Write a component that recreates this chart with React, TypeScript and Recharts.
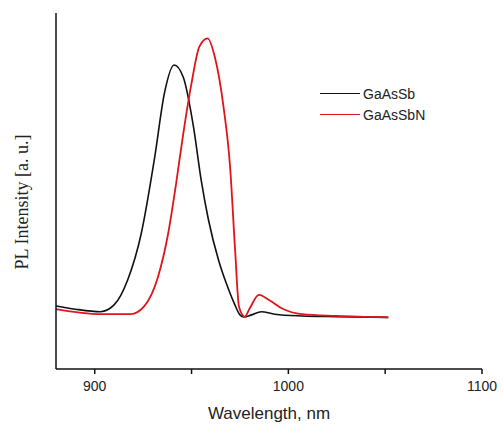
import { Label, Line, LineChart, XAxis, YAxis } from "recharts";

// wavelength (nm) / PL intensity (a.u.)
const gaAsSbWl = [880, 890, 903, 910, 917, 924, 931, 936, 941, 945.7, 951, 955, 958.7, 964, 968, 972, 975, 977, 981, 986, 993, 1007, 1024.5, 1051.6];
const gaAsSbPl = [17.7, 16.8, 16.1, 18, 25, 38, 59.6, 77.5, 85.4, 82, 68, 53, 42, 30.5, 24, 18.5, 15.2, 14.6, 15.2, 16.1, 15.4, 14.9, 14.7, 14.5];

const gaAsSbNWl = [880, 903, 918.6, 925.4, 932.7, 937.9, 942, 945.7, 949.9, 954, 958.3, 962, 966.5, 969.9, 972.5, 974.5, 977.5, 980, 984.8, 990, 996.8, 1007, 1024.5, 1051.6];
const gaAsSbNPl = [16.8, 15.4, 15.4, 17.5, 25.9, 38, 52, 66, 80, 90.5, 92.9, 87.7, 73.7, 56.8, 33.4, 17.5, 14.7, 17, 20.8, 19.4, 17, 15.4, 14.9, 14.5];

const xTicks = [900, 950, 1000, 1050, 1100];
const xTickLabels = ["900", "", "1000", "", "1100"];

const seriesNames = ["GaAsSb", "GaAsSbN"];
const seriesColors = ["#111111", "#e0141b"];

const blackData = gaAsSbWl.map((wl, i) => ({ wl, pl: gaAsSbPl[i] }));
const redData = gaAsSbNWl.map((wl, i) => ({ wl, pl: gaAsSbNPl[i] }));

const sans = "'Liberation Sans', Arial, sans-serif";

function LegendBox() {
  return (
    <div style={{ position: "absolute", left: 320, top: 83, fontFamily: sans, fontSize: 14, color: "#222" }}>
      {seriesNames.map((name, i) => (
        <div key={name} style={{ display: "flex", alignItems: "center", height: 21 }}>
          <span style={{ display: "inline-block", width: 40, borderTop: `1.5px solid ${seriesColors[i]}`, marginRight: 3 }} />
          {name}
        </div>
      ))}
    </div>
  );
}

export default function App() {
  return (
    <div style={{ position: "absolute", left: 0, top: 0, width: 503, height: 432, background: "#fff" }}>
      <LineChart width={503} height={432} margin={{ top: 13, right: 21, bottom: 33, left: 0 }}>
        <XAxis
          dataKey="wl"
          type="number"
          domain={[880, 1100]}
          ticks={xTicks}
          tickFormatter={(v) => xTickLabels[xTicks.indexOf(v)] ?? ""}
          allowDataOverflow
          stroke="#111"
          strokeWidth={1.5}
          tickSize={5}
          tick={{ fill: "#222", fontSize: 14, fontFamily: sans }}
          tickMargin={7}
        >
          <Label value="Wavelength, nm" position="bottom" offset={8} style={{ fill: "#222", fontSize: 17, fontFamily: sans }} />
        </XAxis>
        <YAxis
          type="number"
          domain={[0, 100]}
          width={56}
          tick={false}
          tickLine={false}
          stroke="#111"
          strokeWidth={1.5}
        >
          <Label
            content={() => (
              <text
                x={22}
                y={202}
                transform="rotate(-90 22 202)"
                textAnchor="middle"
                dominantBaseline="central"
                style={{ fill: "#222", fontSize: 18, fontFamily: "'Liberation Serif', 'Times New Roman', serif" }}
              >
                PL Intensity [a. u.]
              </text>
            )}
          />
        </YAxis>
        <Line data={blackData} dataKey="pl" type="monotone" stroke={seriesColors[0]} strokeWidth={1.6} dot={false} isAnimationActive={false} />
        <Line data={redData} dataKey="pl" type="monotone" stroke={seriesColors[1]} strokeWidth={1.8} dot={false} isAnimationActive={false} />
      </LineChart>
      <LegendBox />
    </div>
  );
}
